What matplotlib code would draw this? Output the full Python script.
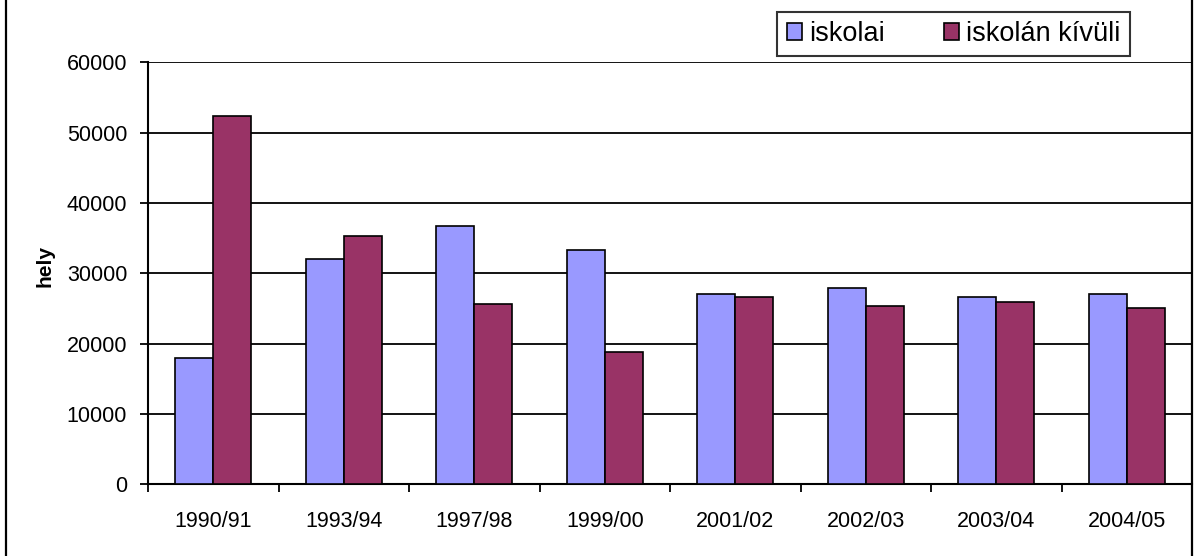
import matplotlib
matplotlib.use("Agg")
import matplotlib.pyplot as plt
import numpy as np
from matplotlib.lines import Line2D

categories = ["1990/91", "1993/94", "1997/98", "1999/00", "2001/02", "2002/03", "2003/04", "2004/05"]
iskolai = [17900, 32100, 36700, 33300, 27000, 27900, 26700, 27000]
iskolan_kivuli = [52300, 35300, 25600, 18800, 26700, 25300, 25900, 25000]
series_names = ["iskolai", "iskolán kívüli"]
yticks = [0, 10000, 20000, 30000, 40000, 50000, 60000]

plt.rcParams['font.family'] = ['Liberation Sans', 'DejaVu Sans']

fig = plt.figure(figsize=(11.94, 5.56), dpi=100)
W, H = 1194, 556
left, right, top, bottom = 148, 1192, 62.3, 484.3
ax = fig.add_axes([left / W, 1 - bottom / H, (right - left) / W, (bottom - top) / H])

n = len(categories)
x = np.arange(n)
bw = 0.29
ax.bar(x - bw / 2, iskolai, bw, color="#9999FF", edgecolor="black", linewidth=1.2, zorder=3, label=series_names[0])
ax.bar(x + bw / 2, iskolan_kivuli, bw, color="#993366", edgecolor="black", linewidth=1.2, zorder=3, label=series_names[1])

ax.set_xlim(-0.5, n - 0.5)
ax.set_ylim(0, 60000)
ax.set_yticks(yticks)
ax.set_yticklabels([str(v) for v in yticks], fontsize=15.5)
ax.yaxis.grid(True, color="black", linewidth=1.3, zorder=0)
ax.set_axisbelow(True)

ax.set_xticks(np.arange(n + 1) - 0.5)
ax.set_xticklabels([])
ax.set_xticks(x, minor=True)
ax.set_xticklabels(categories, minor=True, fontsize=15.5)
ax.tick_params(axis='x', which='minor', length=0, pad=19)
ax.tick_params(axis='x', which='major', length=6, width=1.3, direction='out')
ax.tick_params(axis='y', length=6, width=1.3, direction='out', pad=9)

ax.spines['top'].set_visible(False)
ax.spines['right'].set_visible(False)
ax.spines['left'].set_linewidth(1.5)
ax.spines['bottom'].set_linewidth(1.5)

ax.set_ylabel("hely", fontsize=15, fontweight='bold')
ax.yaxis.set_label_coords((54 - left) / (right - left), (bottom - 266) / (bottom - top))

# outer chart frame lines
fig.add_artist(Line2D([5.5 / W, 5.5 / W], [0, 1], color="black", linewidth=1.6, transform=fig.transFigure))
fig.add_artist(Line2D([1192 / W, 1192 / W], [0, 1], color="black", linewidth=1.6, transform=fig.transFigure))

leg = fig.legend(loc='center', bbox_to_anchor=((775 + 1132) / 2 / W, 1 - 34 / H),
                 ncol=2, fontsize=19.5, frameon=True, fancybox=False, edgecolor='black',
                 handlelength=0.55, handleheight=0.55, handletextpad=0.25, columnspacing=2.2,
                 borderpad=0.35, borderaxespad=0)
leg.get_frame().set_linewidth(1.5)
for h in leg.legend_handles:
    h.set_edgecolor('black')
    h.set_linewidth(1.2)

fig.savefig("out.png", dpi=100)
